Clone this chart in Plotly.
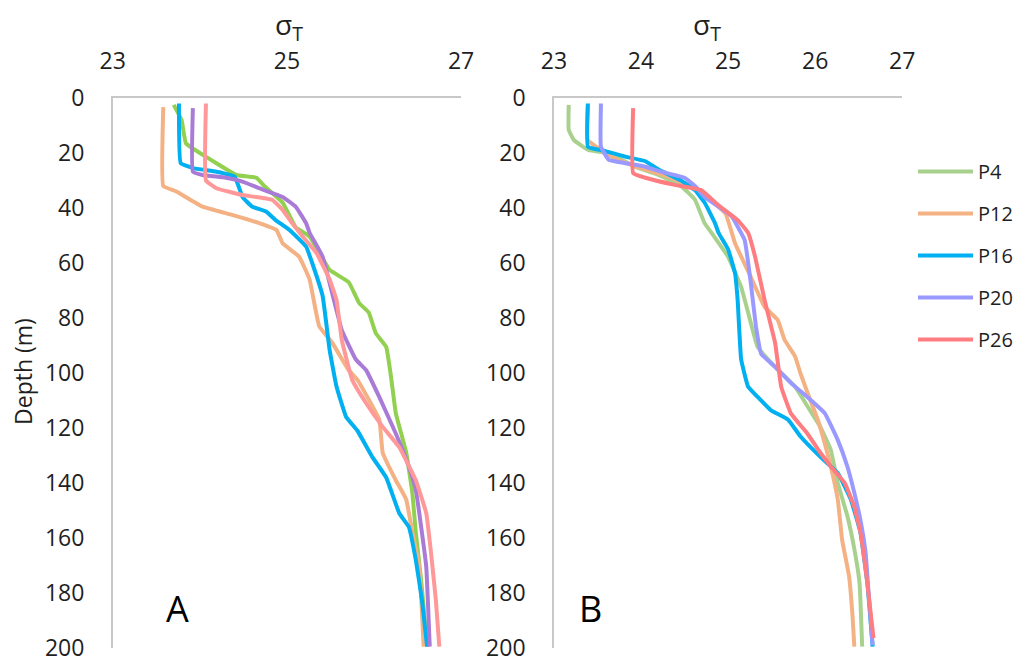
import plotly.graph_objects as go

# ---- Panel A: sigma-T profiles (depth in m, sigma-T) ----
a_p4_depth = [2.5, 8, 16.5, 20, 23.7, 28, 29, 32, 38, 47, 50.4, 62.5, 67, 74.6, 78, 85.5, 90.5, 102.5, 114.6, 129, 143.6, 158, 175, 199.5]
a_p4_sig = [23.70, 23.79, 23.84, 24.00, 24.19, 24.42, 24.65, 24.74, 24.95, 25.10, 25.26, 25.49, 25.71, 25.83, 25.94, 26.02, 26.14, 26.20, 26.25, 26.37, 26.44, 26.48, 26.54, 26.61]

a_p12_depth = [3.3, 32, 34, 39.5, 42.5, 45.5, 48, 52.8, 57.7, 66, 83, 89, 99, 102.5, 117, 129, 139, 146, 158, 170.5, 199.5]
a_p12_sig = [23.58, 23.58, 23.73, 24.03, 24.37, 24.68, 24.88, 24.95, 25.14, 25.26, 25.37, 25.52, 25.71, 25.81, 26.06, 26.10, 26.25, 26.37, 26.44, 26.52, 26.57]

a_p16_depth = [2, 23.7, 25.5, 26.8, 28.6, 36, 39.5, 41.3, 44.4, 48, 54, 60, 72, 91.6, 105, 116, 121, 130.5, 138, 151, 156, 168, 182.5, 199.5]
a_p16_sig = [23.76, 23.78, 23.92, 24.19, 24.40, 24.49, 24.60, 24.76, 24.87, 25.03, 25.22, 25.29, 25.41, 25.49, 25.57, 25.68, 25.81, 25.98, 26.14, 26.29, 26.40, 26.48, 26.55, 26.61]

a_p20_depth = [3.7, 26.8, 28, 29, 30.4, 32.8, 36, 39.5, 45.5, 49, 57.7, 71, 84.4, 95, 99, 108.7, 122, 134, 142.5, 158, 170.5, 199.5]
a_p20_sig = [23.92, 23.92, 24.03, 24.30, 24.49, 24.68, 24.95, 25.10, 25.22, 25.26, 25.41, 25.52, 25.63, 25.79, 25.91, 26.06, 26.25, 26.40, 26.48, 26.55, 26.60, 26.64]

a_p26_depth = [2, 30, 32.8, 35.3, 37, 40.7, 45.5, 50.4, 56.4, 66, 73.5, 88, 102.5, 111, 119.6, 127, 139, 151, 164, 182.5, 199.5]
a_p26_sig = [24.07, 24.07, 24.19, 24.49, 24.83, 24.95, 25.06, 25.18, 25.34, 25.49, 25.57, 25.63, 25.75, 25.91, 26.10, 26.29, 26.48, 26.60, 26.65, 26.71, 26.75]

# ---- Panel B ----
b_p4_depth = [2.5, 11.6, 15.3, 19, 20, 25, 28, 32, 37, 45.5, 49, 57.7, 68.7, 78, 90.5, 97.8, 105, 112, 119.6, 128, 140, 152, 164, 176.5, 199.5]
b_p4_sig = [23.17, 23.17, 23.23, 23.40, 23.63, 23.93, 24.20, 24.46, 24.62, 24.73, 24.81, 25.00, 25.15, 25.23, 25.34, 25.54, 25.77, 25.91, 26.06, 26.18, 26.26, 26.37, 26.45, 26.51, 26.54]

b_p12_depth = [2.5, 15.3, 22, 25.5, 28.6, 33.5, 42, 52.8, 65, 76, 80.7, 88, 94, 100, 107, 117, 125.5, 134, 146, 160.7, 174, 188.7, 199.5]
b_p12_sig = [23.39, 23.39, 23.70, 24.00, 24.31, 24.66, 24.97, 25.08, 25.26, 25.42, 25.57, 25.65, 25.77, 25.83, 25.91, 26.03, 26.11, 26.18, 26.26, 26.31, 26.39, 26.43, 26.45]

b_p16_depth = [2, 17.7, 19, 21.3, 23, 26, 30, 33.5, 38, 45.5, 49, 55, 63.7, 73.5, 95, 105, 108.7, 113.5, 117, 123, 130.5, 136.4, 146, 158, 176.5, 199.5]
b_p16_sig = [23.39, 23.39, 23.55, 23.82, 24.05, 24.20, 24.46, 24.62, 24.73, 24.85, 24.89, 25.00, 25.08, 25.11, 25.15, 25.23, 25.34, 25.49, 25.69, 25.83, 26.06, 26.26, 26.41, 26.52, 26.60, 26.66]

b_p20_depth = [2, 17.7, 22.5, 23.7, 25, 26.8, 29, 32, 36, 39.5, 43, 51.6, 67, 83, 93, 97.8, 103.6, 108.7, 114.6, 124.4, 134, 143.6, 153.5, 165.5, 182.5, 199]
b_p20_sig = [23.54, 23.54, 23.63, 23.82, 24.05, 24.23, 24.50, 24.62, 24.73, 24.89, 25.04, 25.19, 25.26, 25.32, 25.38, 25.54, 25.72, 25.91, 26.11, 26.26, 26.37, 26.45, 26.52, 26.58, 26.62, 26.66]

b_p26_depth = [3.7, 27.3, 29, 31.6, 33.5, 39, 44.4, 49, 57.7, 73.5, 89, 105, 114.6, 122, 129, 134, 140, 148.7, 158, 176.5, 196.4]
b_p26_sig = [23.91, 23.91, 24.05, 24.39, 24.69, 24.89, 25.11, 25.23, 25.31, 25.42, 25.54, 25.61, 25.72, 25.91, 26.06, 26.18, 26.34, 26.45, 26.52, 26.60, 26.67]

station_names = ["P4", "P12", "P16", "P20", "P26"]
colors_a = ["#92D050", "#F4B183", "#00B0F0", "#A97BD6", "#FF9999"]
colors_b = ["#A9D18E", "#F4B183", "#00B0F0", "#9999FF", "#FF7C80"]

panel_a = [(a_p4_sig, a_p4_depth), (a_p12_sig, a_p12_depth), (a_p16_sig, a_p16_depth),
           (a_p20_sig, a_p20_depth), (a_p26_sig, a_p26_depth)]
panel_b = [(b_p4_sig, b_p4_depth), (b_p12_sig, b_p12_depth), (b_p16_sig, b_p16_depth),
           (b_p20_sig, b_p20_depth), (b_p26_sig, b_p26_depth)]

FONT = "Open Sans"
TXT = "#1F1F1F"
AXLINE = "#C8C8C8"
W, H = 1018, 662

fig = go.Figure()
for name, col, (x, y) in zip(station_names, colors_a, panel_a):
    fig.add_trace(go.Scatter(x=x, y=y, mode="lines", name=name, showlegend=False,
                             line=dict(color=col, width=4, shape="spline", smoothing=0.3),
                             xaxis="x", yaxis="y"))
for name, col, (x, y) in zip(station_names, colors_b, panel_b):
    fig.add_trace(go.Scatter(x=x, y=y, mode="lines", name=name, legendgroup=name,
                             line=dict(color=col, width=4, shape="spline", smoothing=0.3),
                             xaxis="x2", yaxis="y2"))

xcommon = dict(side="top", range=[23, 27], showgrid=False, zeroline=False, showline=True,
               linecolor=AXLINE, linewidth=2, ticks="", ticklabelstandoff=18, automargin=False,
               ticklabeloverflow="allow", tickfont=dict(family=FONT, size=23, color=TXT))
ycommon = dict(range=[200, 0], dtick=20, showgrid=False, zeroline=False, showline=True,
               linecolor=AXLINE, linewidth=1.5, ticks="", ticklabelstandoff=22, automargin=False,
               ticklabeloverflow="allow", tickfont=dict(family=FONT, size=23, color=TXT))


def fx(px):
    return px / W


def fy(py):
    return 1 - py / H


def label(text, px, py, size, color=TXT, angle=0):
    """Paper-anchored text placed by its centre."""
    return dict(text=text, x=fx(px), y=fy(py), xref="paper", yref="paper",
                xanchor="center", yanchor="middle", showarrow=False, textangle=angle,
                font=dict(family=FONT, size=size, color=color))


fig.update_layout(
    width=W, height=H, autosize=False,
    margin=dict(l=0, r=0, t=0, b=0),
    paper_bgcolor="white", plot_bgcolor="white",
    font=dict(family=FONT, color=TXT),
    xaxis=dict(domain=[fx(113), fx(462)], anchor="y", tickvals=[23, 25, 27], **xcommon),
    yaxis=dict(domain=[fy(648), fy(98)], anchor="x", **ycommon),
    xaxis2=dict(domain=[fx(555), fx(904)], anchor="y2", dtick=1, **xcommon),
    yaxis2=dict(domain=[fy(648), fy(98)], anchor="x2", **ycommon),
    legend=dict(x=fx(915), y=fy(152), xanchor="left", yanchor="top",
                font=dict(family=FONT, size=20, color=TXT), tracegroupgap=13,
                itemwidth=55, bgcolor="rgba(0,0,0,0)"),
    showlegend=True,
    annotations=[
        label("σ<sub>T</sub>", 290, 26, 28),
        label("σ<sub>T</sub>", 708, 26, 28),
        label("Depth (m)", 23, 371, 23, angle=-90),
        label("A", 178, 608, 36, "#000000"),
        label("B", 592, 608, 36, "#000000"),
    ],
)

# keep the page exactly the size of the figure (no body margin, no scrollbars)
page_css = ("document.documentElement.style.overflow='hidden';"
            "document.body.style.margin='0';document.body.style.overflow='hidden';")

fig.write_html("out.html", config={"responsive": False}, post_script=page_css)
